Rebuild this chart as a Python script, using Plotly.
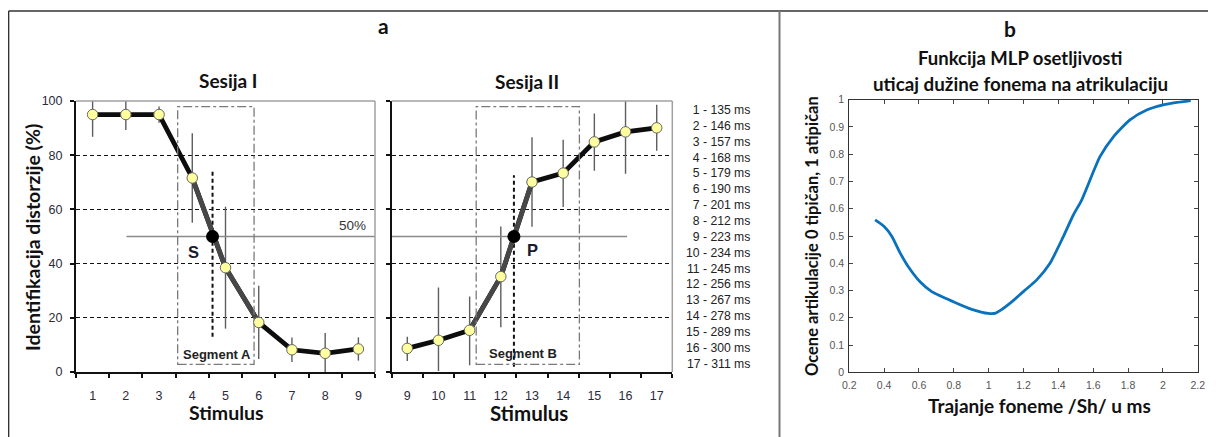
import plotly.graph_objects as go

W, H = 1216, 437
OFF = 8  # the page body adds an 8px margin, so positions are shifted back by it

# --- data ---
stim_1 = [1, 2, 3, 4, 5, 6, 7, 8, 9]
ident_1 = [95, 95, 95, 71.6, 38.5, 18.3, 8.2, 6.9, 8.5]
err_1 = [8.2, 5.7, 3, 16.5, 22.5, 13.5, 4.5, 7.5, 4.3]
mid_1 = [4.61]
mid_1_y = [50]
mid_1_range = [13, 74]
seg_a_x = [3.56, 5.86]
seg_y = [2.8, 97.9]
half_1_x = [2.02, 9.5]

stim_2 = [9, 10, 11, 12, 13, 14, 15, 16, 17]
ident_2 = [8.7, 11.7, 15.4, 35.2, 70.1, 73.4, 84.9, 88.6, 90.1]
err_2_plus = [4.3, 19.5, 12.5, 18.5, 16.5, 12.3, 10.5, 15.4, 8.5]
err_2_minus = [4.6, 11.3, 12.9, 18.7, 16.5, 12.5, 10.6, 15.4, 8.5]
mid_2 = [12.42]
mid_2_y = [50]
mid_2_range = [1.9, 72.6]
seg_b_x = [11.21, 14.52]
half_2_x = [8.5, 16.05]

stim_no = list(range(1, 18))
stim_ms = [135, 146, 157, 168, 179, 190, 201, 212, 223, 234, 245, 256, 267, 278, 289, 300, 311]

dur_b = [0.348, 0.40, 0.443, 0.49, 0.539, 0.606, 0.673, 0.797, 0.903, 0.998, 1.04, 1.065, 1.141,
         1.199, 1.276, 1.352, 1.428, 1.486, 1.534, 1.639, 1.716, 1.811, 1.907, 2.002, 2.08, 2.16]
score_b = [0.559, 0.535, 0.50, 0.44, 0.387, 0.332, 0.296, 0.259, 0.231, 0.216, 0.217, 0.226, 0.263,
           0.296, 0.339, 0.40, 0.497, 0.577, 0.632, 0.791, 0.864, 0.926, 0.962, 0.981, 0.99, 0.997]


def px(x):
    return (x - OFF) / W


def py(y):
    return 1 - (y - OFF) / H


TICK_FONT = dict(family="Liberation Sans, Arial", size=12.5, color="#2b2b3a")
BOLD = "Lato, Open Sans, sans-serif"
ARIAL = "Liberation Sans, Arial"
YELLOW = "#ffff9e"

fig = go.Figure()


def add_session(xa, ya, stim, ident, eplus, eminus, mid, mid_y, mid_rng, steep, half_x):
    # error bars
    fig.add_trace(go.Scatter(
        x=stim, y=ident, mode="markers", xaxis=xa, yaxis=ya,
        marker=dict(size=1, color="rgba(0,0,0,0)"),
        error_y=dict(type="data", array=eplus, arrayminus=eminus,
                     color="#5e5e5e", thickness=1.4, width=0),
        hoverinfo="skip", showlegend=False))
    # 50% line
    fig.add_trace(go.Scatter(
        x=half_x, y=mid_y * 2, mode="lines", xaxis=xa, yaxis=ya,
        line=dict(color="#8a8a8a", width=1.6), hoverinfo="skip", showlegend=False))
    # dashed vertical through the crossing point
    fig.add_trace(go.Scatter(
        x=mid * 2, y=mid_rng, mode="lines", xaxis=xa, yaxis=ya,
        line=dict(color="#111", width=2, dash="4px,3px"), hoverinfo="skip", showlegend=False))
    # main curve
    fig.add_trace(go.Scatter(
        x=stim, y=ident, mode="lines", xaxis=xa, yaxis=ya,
        line=dict(color="#0d0d0d", width=4.8), showlegend=False))
    fig.add_trace(go.Scatter(
        x=[stim[i] for i in steep], y=[ident[i] for i in steep], mode="lines", xaxis=xa, yaxis=ya,
        line=dict(color="#474747", width=4.8), showlegend=False))
    fig.add_trace(go.Scatter(
        x=stim, y=ident, mode="markers", xaxis=xa, yaxis=ya,
        marker=dict(size=10.5, color=YELLOW, line=dict(color="#666", width=1)), showlegend=False))
    fig.add_trace(go.Scatter(
        x=mid, y=mid_y, mode="markers", xaxis=xa, yaxis=ya,
        marker=dict(size=13, color="#000"), showlegend=False))


add_session("x", "y", stim_1, ident_1, err_1, err_1, mid_1, mid_1_y, mid_1_range, [3, 4, 5], half_1_x)
add_session("x2", "y2", stim_2, ident_2, err_2_plus, err_2_minus, mid_2, mid_2_y, mid_2_range, [2, 3, 4], half_2_x)

fig.add_trace(go.Scatter(
    x=dur_b, y=score_b, mode="lines", xaxis="x3", yaxis="y3",
    line=dict(color="#0a72bd", width=2.8, shape="spline", smoothing=0.6), showlegend=False))

y_dom = [py(372), py(101)]


def cat_xaxis(dom, stim, anchor):
    return dict(domain=dom, anchor=anchor, range=[stim[0] - 0.5, stim[-1] + 0.5],
                tickmode="array", tickvals=stim, ticks="", ticklabelstandoff=11,
                tickfont=TICK_FONT, showgrid=False, zeroline=False,
                showline=True, linecolor="#111", linewidth=2,
                minor=dict(tickmode="array", tickvals=[s - 0.5 for s in stim] + [stim[-1] + 0.5],
                           ticks="outside", ticklen=4, tickwidth=1.5, tickcolor="#111"))


def pct_yaxis(anchor, labels):
    return dict(domain=y_dom, anchor=anchor, range=[0, 100], tickvals=[0, 20, 40, 60, 80, 100],
                ticks="outside", ticklen=4, tickwidth=1.5, tickcolor="#111",
                showticklabels=labels, tickfont=TICK_FONT, ticklabelstandoff=5,
                showgrid=True, gridcolor="#111", griddash="4px,3px", gridwidth=1,
                zeroline=False, showline=True, linecolor="#111", linewidth=2)


shapes = []
# panel frame
for x0, y0, x1, y1, c, w in [(8.6, 11, 1230, 11, "#333", 1.5), (8.6, 11, 8.6, 450, "#333", 1.5),
                             (779.5, 11, 779.5, 450, "#777", 2)]:
    shapes.append(dict(type="line", xref="paper", yref="paper", x0=px(x0), y0=py(y0),
                       x1=px(x1), y1=py(y1), line=dict(color=c, width=w)))
# gray top/right of the session boxes
for xr, yr in [("x", "y"), ("x2", "y2")]:
    shapes.append(dict(type="line", xref=xr + " domain", yref=yr + " domain", x0=0, x1=1, y0=1, y1=1,
                       line=dict(color="#a0a0a0", width=1.5)))
    shapes.append(dict(type="line", xref=xr + " domain", yref=yr + " domain", x0=1, x1=1, y0=0, y1=1,
                       line=dict(color="#a0a0a0", width=1.5)))
# segment boxes
for xr, yr, sx in [("x", "y", seg_a_x), ("x2", "y2", seg_b_x)]:
    shapes.append(dict(type="rect", xref=xr, yref=yr, x0=sx[0], x1=sx[1], y0=seg_y[0], y1=seg_y[1],
                       line=dict(color="#7a7a7a", width=1.3, dash="dashdot"), layer="above"))

ann = []


def txt(x, y, s, size, bold=True, angle=0, color="#111", family=None, xanchor="center"):
    ann.append(dict(x=px(x), y=py(y), xref="paper", yref="paper", text=s, showarrow=False,
                    xanchor=xanchor, yanchor="middle", align=xanchor if xanchor != "center" else "center",
                    textangle=angle, font=dict(family=family or (BOLD if bold else ARIAL),
                                               size=size, color=color)))


txt(383, 26, "<b>a</b>", 21)
txt(228, 80, "<b>Sesija I</b>", 19)
txt(527, 81, "<b>Sesija II</b>", 19)
txt(32, 238, "<b>Identifikacija distorzije (%)</b>", 19.5, angle=-90)
txt(226, 412, "<b>Stimulus</b>", 19.5)
txt(529, 413, "<b>Stimulus</b>", 20.5)
txt(193, 252, "<b>S</b>", 16.5, family=ARIAL, color="#1a1a2e")
txt(532, 250, "<b>P</b>", 16.5, family=ARIAL, color="#1a1a2e")
txt(352, 226, "50%", 13.5, bold=False, color="#333")
txt(217, 354, "<b>Segment A</b>", 13, family=ARIAL, color="#222")
txt(523, 353, "<b>Segment B</b>", 13, family=ARIAL, color="#222")
ms_lines = "<br>".join(f"{n} - {m} ms" for n, m in zip(stim_no, stim_ms))
txt(752, 237, ms_lines, 12.2, bold=False, color="#222", xanchor="right")

txt(1010, 29, "<b>b</b>", 21)
txt(1020, 58, "<b>Funkcija MLP osetljivosti</b>", 18.5)
txt(1020, 83, "<b>uticaj dužine fonema na atrikulaciju</b>", 18.8)
txt(1039, 405, "<b>Trajanje foneme /Sh/ u ms</b>", 19)
txt(812, 236, "<b>Ocene artikulacije 0 tipičan, 1 atipičan</b>", 16.5, angle=-90)

b_tick = dict(family=ARIAL, size=10.5, color="#555")

fig.update_layout(
    width=W, height=H, margin=dict(l=0, r=0, t=0, b=0, autoexpand=False),
    paper_bgcolor="white", plot_bgcolor="white",
    xaxis=cat_xaxis([px(76), px(375)], stim_1, "y"),
    yaxis=pct_yaxis("x", True),
    xaxis2=cat_xaxis([px(391.7), px(672.3)], stim_2, "y2"),
    yaxis2=pct_yaxis("x2", False),
    xaxis3=dict(domain=[px(849.3), px(1197.7)], anchor="y3", range=[0.2, 2.2], dtick=0.2, tick0=0.2,
                ticks="inside", ticklen=4, tickcolor="#444", mirror="ticks", showline=True,
                linecolor="#333", linewidth=1, showgrid=False, zeroline=False, tickfont=b_tick,
                ticklabelstandoff=3),
    yaxis3=dict(domain=[py(372.3), py(99.7)], anchor="x3", range=[0, 1], dtick=0.1,
                ticks="inside", ticklen=4, tickcolor="#444", mirror="ticks", showline=True,
                linecolor="#333", linewidth=1, showgrid=False, zeroline=False, tickfont=b_tick,
                ticklabelstandoff=2),
    shapes=shapes, annotations=ann,
)

fig.write_html("out.html")
